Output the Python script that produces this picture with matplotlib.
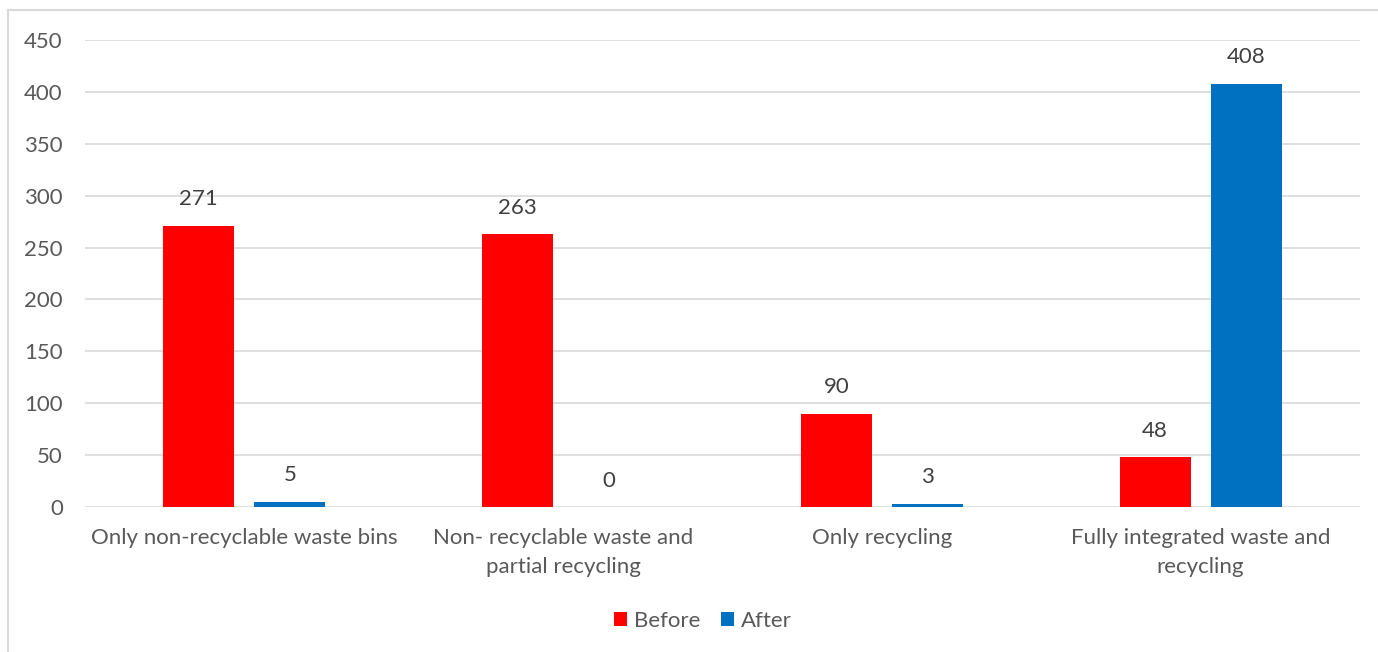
import numpy as np
import matplotlib.pyplot as plt
from matplotlib.patches import Rectangle

# Data
categories = ['Only non-recyclable waste bins',
              'Non- recyclable waste and\npartial recycling',
              'Only recycling',
              'Fully integrated waste and\nrecycling']
before = [271, 263, 90, 48]
after = [5, 0, 3, 408]
series_names = ['Before', 'After']
yticks = [0, 50, 100, 150, 200, 250, 300, 350, 400, 450]

RED = '#FF0000'
BLUE = '#0070C0'
TXT = '#595959'
GRID = '#D9D9D9'
FS = 16

plt.rcParams['font.family'] = ['Lato', 'DejaVu Sans']

fig = plt.figure(figsize=(13.78, 6.52), dpi=100)
ax = fig.add_axes([85 / 1378, 1 - 507 / 652, 1275 / 1378, 467 / 652])

# chart border (light gray frame like Excel)
fig.patches.append(Rectangle((8 / 1378, -0.05), 1.1, 1 - 10 / 652 + 0.05,
                             transform=fig.transFigure, fill=False,
                             edgecolor=GRID, linewidth=1.5))

x = np.arange(len(categories))
w = 0.223
off = 0.143
b1 = ax.bar(x - off, before, w, color=RED, label=series_names[0], zorder=3)
b2 = ax.bar(x + off, after, w, color=BLUE, label=series_names[1], zorder=3)

for bars in (b1, b2):
    for rect in bars:
        h = rect.get_height()
        ax.annotate(f'{h:.0f}', (rect.get_x() + rect.get_width() / 2, h),
                    xytext=(0, 19), textcoords='offset points',
                    ha='center', va='center', fontsize=FS, color='#404040')

ax.set_xlim(-0.5, len(categories) - 0.5)
ax.set_ylim(0, 450)
ax.set_yticks(yticks)
ax.set_xticks(x)
ax.set_xticklabels(categories, fontsize=FS, color=TXT, linespacing=1.6)
ax.tick_params(axis='y', labelsize=FS, labelcolor=TXT, length=0, pad=16)
ax.tick_params(axis='x', length=0, pad=15)
ax.grid(axis='y', color=GRID, linewidth=1.2, zorder=0)
for s in ax.spines.values():
    s.set_visible(False)

fig.legend(handles=[b1, b2], labels=series_names, loc='center',
           bbox_to_anchor=(0.510, 1 - 621 / 652), ncol=2, frameon=False,
           fontsize=FS, handlelength=0.6, handleheight=0.6,
           handletextpad=0.3, columnspacing=0.9, labelcolor=TXT)

plt.savefig('out.png', dpi=100)
plt.close()
